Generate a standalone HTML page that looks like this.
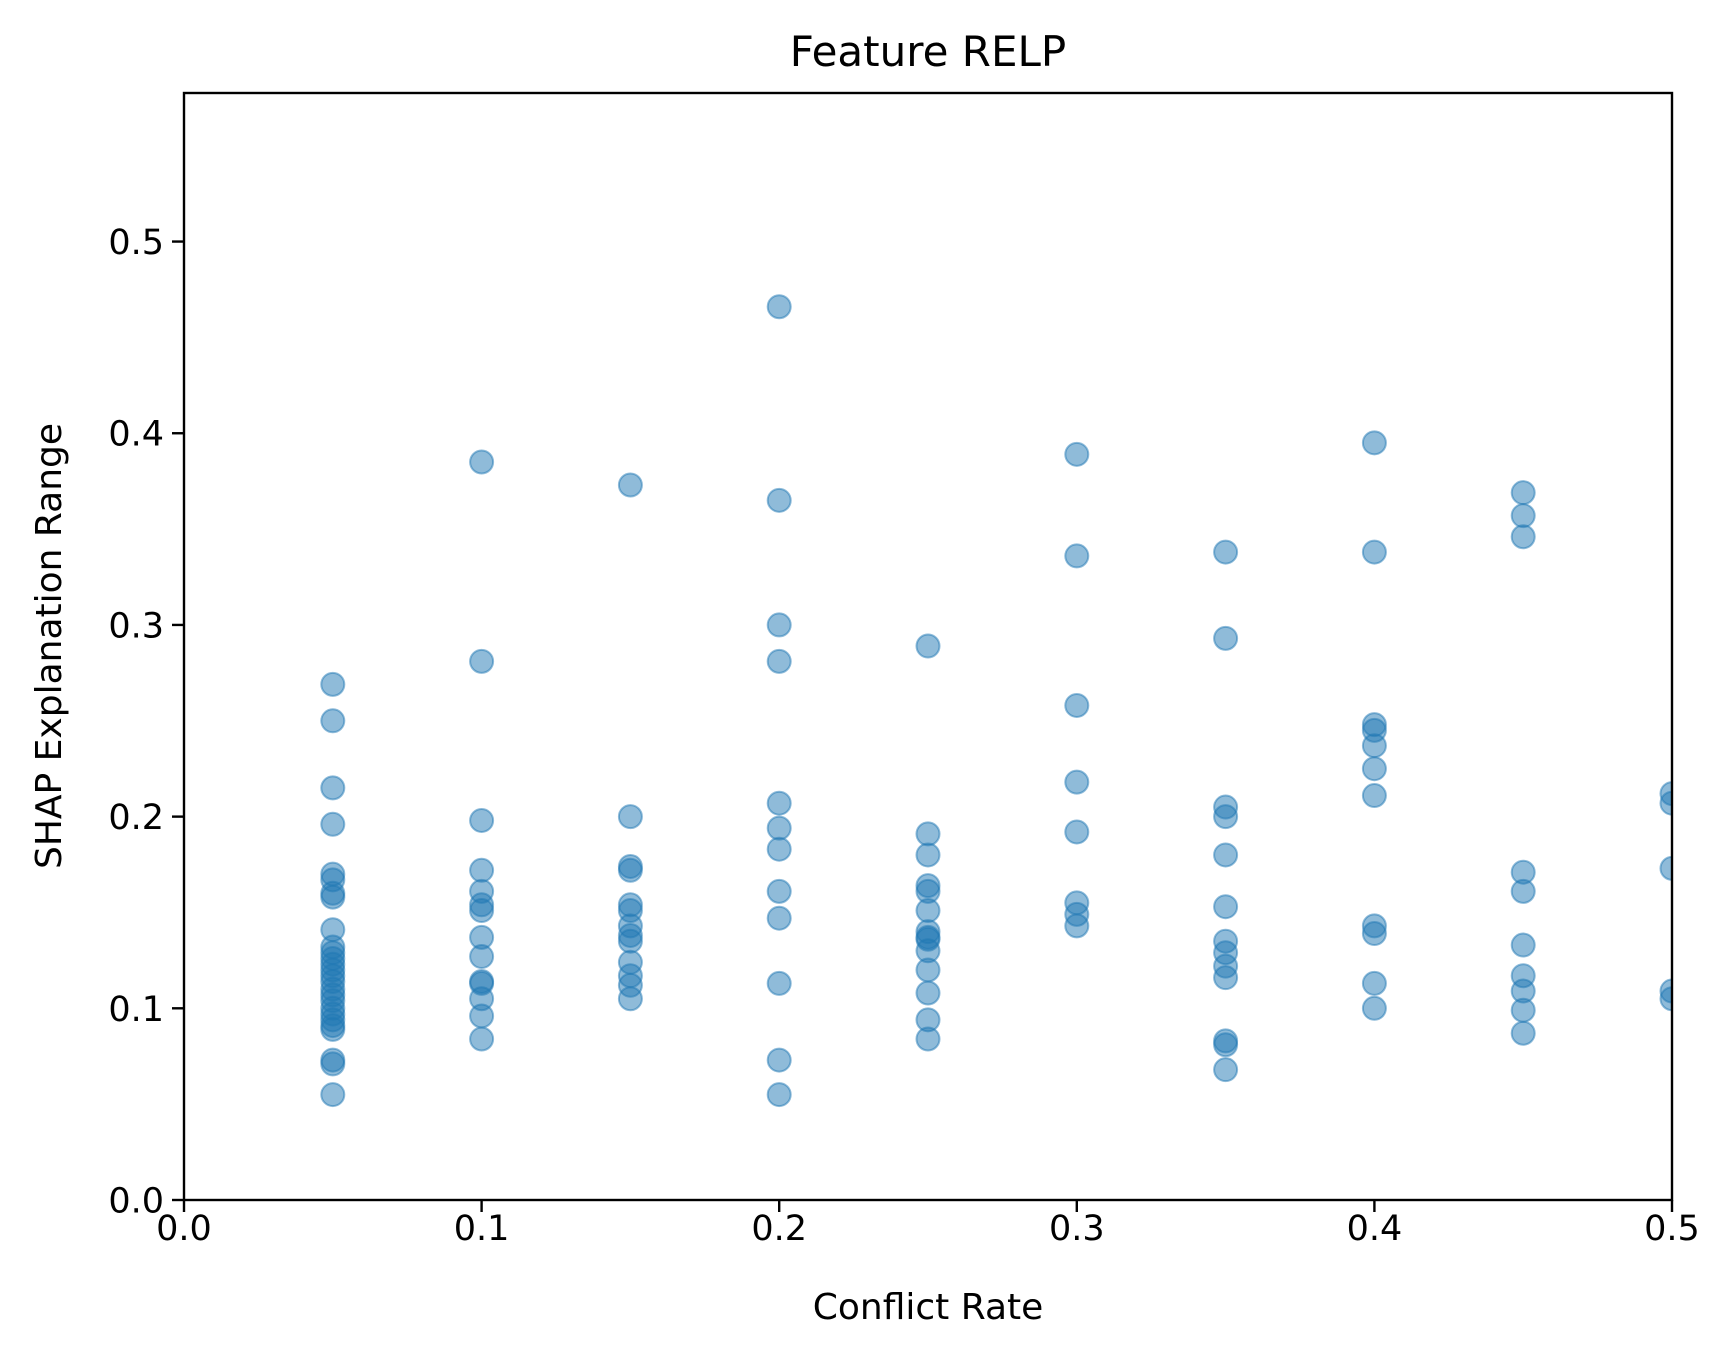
<!DOCTYPE html>
<html><head><meta charset="utf-8"><style>
html,body{margin:0;padding:0;background:#fff;}
svg text{font-family:"DejaVu Sans","Liberation Sans",sans-serif;fill:#000;}
</style></head><body>
<svg id="chart" width="1735" height="1361" viewBox="0 0 1735 1361" xmlns="http://www.w3.org/2000/svg">
<rect width="1735" height="1361" fill="#fff"/>
<g id="points"></g>
<g id="axes"></g>
<text x="928" y="66" font-size="42" text-anchor="middle">Feature RELP</text>
<text x="928" y="1319" font-size="36" text-anchor="middle">Conflict Rate</text>
<text x="0" y="0" font-size="36" text-anchor="middle" transform="translate(61,646) rotate(-90)">SHAP Explanation Range</text>
</svg>
<script>
const xCats = [0.05,0.1,0.15,0.2,0.25,0.3,0.35,0.4,0.45,0.5];
const vals005 = [0.269,0.250,0.215,0.196,0.170,0.167,0.160,0.158,0.141,0.132,0.129,0.126,0.123,0.120,0.117,0.114,0.110,0.107,0.104,0.100,0.097,0.094,0.091,0.089,0.073,0.071,0.055];
const vals010 = [0.385,0.281,0.198,0.172,0.161,0.154,0.151,0.137,0.127,0.114,0.113,0.105,0.096,0.084];
const vals015 = [0.373,0.200,0.174,0.172,0.154,0.151,0.143,0.138,0.135,0.124,0.117,0.112,0.105];
const vals020 = [0.466,0.365,0.300,0.281,0.207,0.194,0.183,0.161,0.147,0.113,0.073,0.055];
const vals025 = [0.289,0.191,0.180,0.164,0.161,0.151,0.140,0.137,0.136,0.130,0.120,0.108,0.094,0.084];
const vals030 = [0.389,0.336,0.258,0.218,0.192,0.155,0.149,0.143];
const vals035 = [0.338,0.293,0.205,0.200,0.180,0.153,0.135,0.129,0.122,0.116,0.083,0.081,0.068];
const vals040 = [0.395,0.338,0.248,0.245,0.237,0.225,0.211,0.143,0.139,0.113,0.100];
const vals045 = [0.369,0.357,0.346,0.171,0.161,0.133,0.117,0.109,0.099,0.087];
const vals050 = [0.212,0.207,0.173,0.109,0.105];
const xTicks = ["0.0","0.1","0.2","0.3","0.4","0.5"];
const yTicks = ["0.0","0.1","0.2","0.3","0.4","0.5"];

const NS="http://www.w3.org/2000/svg";
const L=184,R=1672,T=93,B=1200;
const xMax=0.5,yMax=0.5775;
function sx(v){return L+(R-L)*v/xMax;}
function sy(v){return B-(B-T)*v/yMax;}
const series=[vals005,vals010,vals015,vals020,vals025,vals030,vals035,vals040,vals045,vals050];
const clip=document.createElementNS(NS,"clipPath");clip.setAttribute("id","cp");
const cr=document.createElementNS(NS,"rect");cr.setAttribute("x",L);cr.setAttribute("y",T);cr.setAttribute("width",R-L);cr.setAttribute("height",B-T);
clip.appendChild(cr);document.getElementById("chart").appendChild(clip);
const pg=document.getElementById("points");pg.setAttribute("clip-path","url(#cp)");
series.forEach((arr,i)=>{arr.forEach(v=>{
  const c=document.createElementNS(NS,"circle");
  
  
  c.setAttribute("cx",sx(xCats[i]));c.setAttribute("cy",sy(v));c.setAttribute("r",11.5);
  c.setAttribute("fill","rgba(31,119,180,0.5)");c.setAttribute("stroke","rgba(31,119,180,0.5)");c.setAttribute("stroke-width",2);
  pg.appendChild(c);
});});
const ax=document.getElementById("axes");
const fr=document.createElementNS(NS,"rect");


fr.setAttribute("x",L);fr.setAttribute("y",T);fr.setAttribute("width",R-L);fr.setAttribute("height",B-T);
fr.setAttribute("fill","none");fr.setAttribute("stroke","#000");fr.setAttribute("stroke-width",2.4);ax.appendChild(fr);
xTicks.forEach(t=>{const x=sx(parseFloat(t));
  const l=document.createElementNS(NS,"line");
  
  
  l.setAttribute("x1",x);l.setAttribute("x2",x);l.setAttribute("y1",B);l.setAttribute("y2",B+12);l.setAttribute("stroke","#000");l.setAttribute("stroke-width",2.4);ax.appendChild(l);
  const tx=document.createElementNS(NS,"text");
  
  
  tx.setAttribute("x",x);tx.setAttribute("y",B+40);tx.setAttribute("font-size",35);tx.setAttribute("text-anchor","middle");tx.textContent=t;ax.appendChild(tx);
});
yTicks.forEach(t=>{const y=sy(parseFloat(t));
  const l=document.createElementNS(NS,"line");
  
  
  l.setAttribute("x1",L-12);l.setAttribute("x2",L);l.setAttribute("y1",y);l.setAttribute("y2",y);l.setAttribute("stroke","#000");l.setAttribute("stroke-width",2.4);ax.appendChild(l);
  const tx=document.createElementNS(NS,"text");
  
  
  tx.setAttribute("x",L-20);tx.setAttribute("y",y+12.5);tx.setAttribute("font-size",35);tx.setAttribute("text-anchor","end");tx.textContent=t;ax.appendChild(tx);
});
</script>
</body></html>
